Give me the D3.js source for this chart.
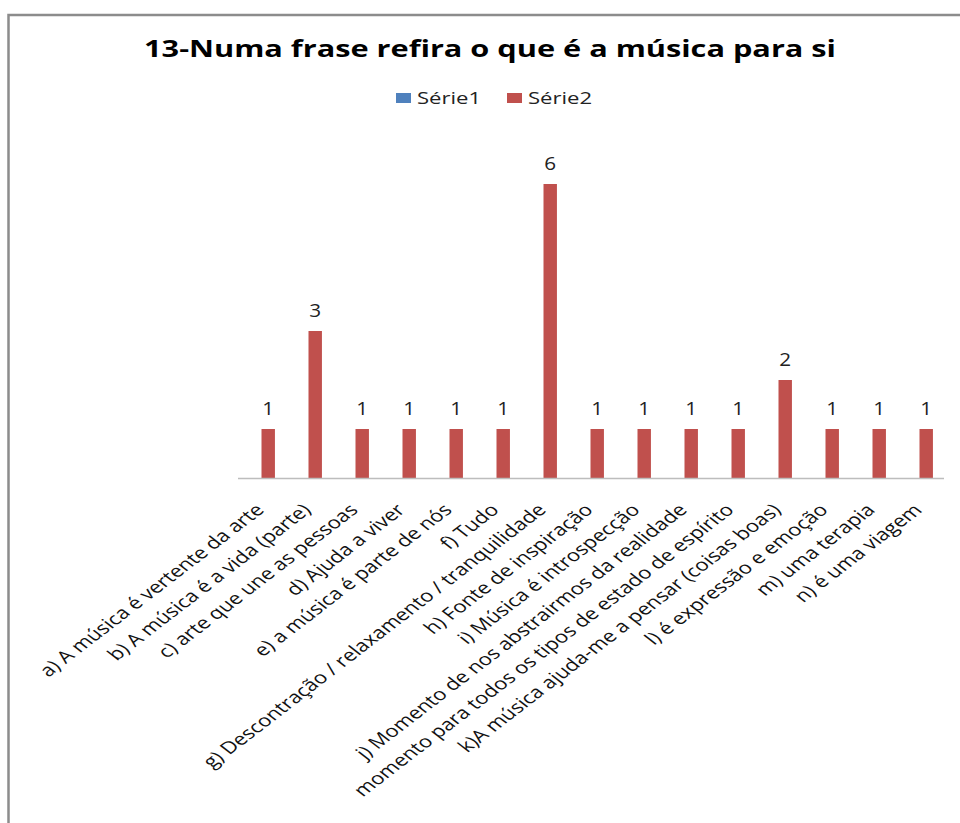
<!DOCTYPE html>
<html lang="pt">
<head>
<meta charset="UTF-8">
<title>13-Numa frase refira o que é a música para si</title>
<script src="https://d3js.org/d3.v7.min.js"></script>
<style>
  body { margin: 0; background: #fff; }
  svg { display: block; }
  text { font-family: "Open Sans", "Noto Sans", sans-serif; fill: #000; }
</style>
</head>
<body>
<div id="chart"></div>
<script>
  // data
  var categories = [
    "a) A música é vertente da arte",
    "b) A música é a vida (parte)",
    "c) arte que une as pessoas",
    "d) Ajuda a viver",
    "e) a música é parte de nós",
    "f) Tudo",
    "g) Descontração / relaxamento / tranquilidade",
    "h) Fonte de inspiração",
    "i) Música é introspecção",
    "j) Momento de nos abstrairmos da realidade",
    "momento para todos os tipos de estado de espírito",
    "k)A música ajuda-me a pensar (coisas boas)",
    "l) é expressão e emoção",
    "m) uma terapia",
    "n) é uma viagem"
  ];
  var serie1 = [0, 0, 0, 0, 0, 0, 0, 0, 0, 0, 0, 0, 0, 0, 0];
  var serie2 = [1, 3, 1, 1, 1, 1, 6, 1, 1, 1, 1, 2, 1, 1, 1];
  var seriesNames = ["Série1", "Série2"];
  var seriesColors = ["#4f81bd", "#c0504d"];

  var W = 960, H = 823;
  // the original picture is stretched sideways, so text gets the same stretch
  var SX = 1.3;
  function stretched(x, y) { return 'translate(' + x + ',' + y + ') scale(' + SX + ',1)'; }

  var svg = d3.select('#chart').append('svg').attr('width', W).attr('height', H);

  // outer chart border (runs off the right/bottom of the crop)
  svg.append('rect')
    .attr('x', 8.5).attr('y', 15).attr('width', W + 20).attr('height', H + 20)
    .attr('fill', 'none').attr('stroke', '#8c8c8c').attr('stroke-width', 2.5);

  svg.append('text')
    .attr('transform', 'translate(490,57) scale(1.28,1)')
    .attr('text-anchor', 'middle')
    .style('font-size', '24px').style('font-weight', 'bold')
    .text('13-Numa frase refira o que é a música para si');

  // legend
  var legendX = [396, 507];
  var legendItem = svg.append('g').selectAll('g').data(seriesNames).enter().append('g')
    .attr('transform', function (_, i) { return 'translate(' + legendX[i] + ',93)'; });
  legendItem.append('rect').attr('width', 15).attr('height', 10)
    .attr('fill', function (_, i) { return seriesColors[i]; });
  legendItem.append('text')
    .attr('transform', stretched(21, 11))
    .style('font-size', '17px').style('fill', '#222')
    .text(function (d) { return d; });

  var plotLeft = 238, plotRight = 943, baseY = 478;
  var x = d3.scaleBand().domain(categories).range([plotLeft, plotRight]).paddingInner(0).paddingOuter(0);
  var y = d3.scaleLinear().domain([0, 6]).range([baseY, baseY - 294]);
  var barW = x.bandwidth() / 3.5;

  var rows = categories.map(function (c, i) { return { cat: c, s1: serie1[i], s2: serie2[i] }; });

  var groups = svg.append('g').selectAll('g').data(rows).enter().append('g')
    .attr('transform', function (d) { return 'translate(' + (x(d.cat) + x.bandwidth() / 2) + ',0)'; });

  groups.append('rect')
    .attr('x', -barW).attr('width', barW)
    .attr('y', function (d) { return y(d.s1); })
    .attr('height', function (d) { return baseY - y(d.s1); })
    .attr('fill', seriesColors[0]);

  groups.append('rect')
    .attr('x', 0).attr('width', barW)
    .attr('y', function (d) { return y(d.s2); })
    .attr('height', function (d) { return baseY - y(d.s2); })
    .attr('fill', seriesColors[1]);

  groups.append('text')
    .attr('transform', function (d) { return 'translate(' + (barW / 2) + ',' + (y(d.s2) - 14) + ') scale(1.15,1)'; })
    .attr('text-anchor', 'middle')
    .style('font-size', '18px').style('fill', '#222')
    .text(function (d) { return d.s2; });

  // category axis
  svg.append('line')
    .attr('x1', plotLeft).attr('x2', plotRight + 1)
    .attr('y1', baseY + 0.5).attr('y2', baseY + 0.5)
    .attr('stroke', '#bdbdbd').attr('stroke-width', 1.5);

  groups.append('text')
    .attr('text-anchor', 'end')
    .attr('transform', 'translate(' + (barW / 2 - 3) + ',' + (baseY + 33) + ') scale(' + SX + ',1) rotate(-45)')
    .style('font-size', '17px').style('fill', '#111')
    .text(function (d) { return d.cat; });
</script>
</body>
</html>
